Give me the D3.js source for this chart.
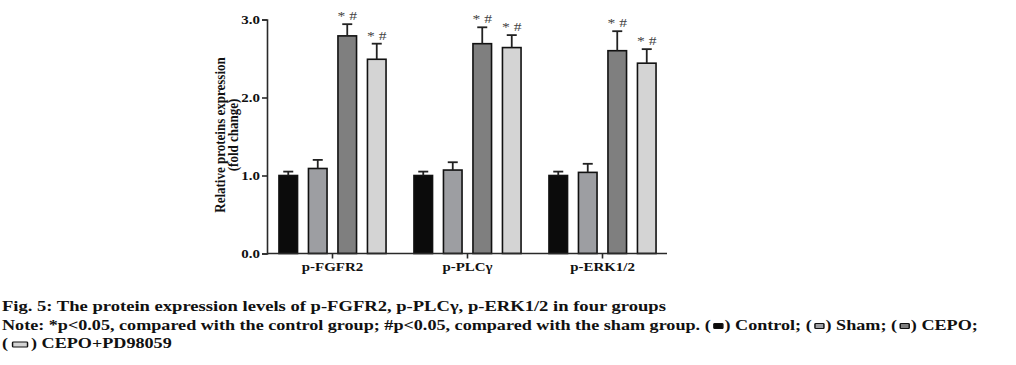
<!DOCTYPE html>
<html>
<head>
<meta charset="utf-8">
<script src="https://cdn.jsdelivr.net/npm/d3@7"></script>
<style>
  html, body { margin: 0; padding: 0; background: #fff; }
  svg { display: block; }
</style>
</head>
<body>
<div id="chart"></div>
<script>
// data
var groups = ["p-FGFR2", "p-PLCγ", "p-ERK1/2"];
var series = ["Control", "Sham", "CEPO", "CEPO+PD98059"];
var seriesColors = ["#0b0b0b", "#9d9ea2", "#7f7f7f", "#d4d4d4"];
var controlMean = [1.00, 1.00, 1.00];
var shamMean = [1.09, 1.07, 1.04];
var cepoMean = [2.79, 2.69, 2.60];
var cepoPdMean = [2.49, 2.64, 2.44];
var controlErr = [0.05, 0.05, 0.05];
var shamErr = [0.11, 0.10, 0.11];
var cepoErr = [0.15, 0.21, 0.25];
var cepoPdErr = [0.20, 0.16, 0.18];
var sigLabels = ["", "", "* #", "* #"];
var yTicks = [0, 1, 2, 3];

var means = [controlMean, shamMean, cepoMean, cepoPdMean];
var errs = [controlErr, shamErr, cepoErr, cepoPdErr];

var W = 1016, H = 365;
var serif = "'Liberation Serif', 'Times New Roman', serif";
var sx = 1.3; // the figure's text is stretched horizontally

var svg = d3.select("#chart").append("svg")
  .attr("width", W).attr("height", H);
svg.append("rect").attr("width", W).attr("height", H).attr("fill", "#fff");

// scales
var y = d3.scaleLinear().domain([0, 3]).range([253.5, 19.5]);
var x0 = d3.scaleBand().domain(groups).range([265, 670]);
var x1 = d3.scaleBand().domain(series).range([-59, 59])
  .paddingInner(0.37).paddingOuter(0.185);

var rows = [];
groups.forEach(function(g, gi) {
  series.forEach(function(s, si) {
    rows.push({ group: g, key: s, si: si, value: means[si][gi], err: errs[si][gi] });
  });
});

function bx(d) { return x0(d.group) + x0.bandwidth() / 2 + x1(d.key); }

// bars
svg.append("g").selectAll("rect")
  .data(rows).enter().append("rect")
  .attr("x", bx)
  .attr("y", function(d) { return y(d.value); })
  .attr("width", x1.bandwidth())
  .attr("height", function(d) { return y(0) - y(d.value); })
  .attr("fill", function(d) { return seriesColors[d.si]; })
  .attr("stroke", "#111")
  .attr("stroke-width", 1.6);

// error bars (upper only)
var eb = svg.append("g").attr("stroke", "#222").attr("stroke-width", 1.8);
eb.selectAll("line.v").data(rows).enter().append("line")
  .attr("x1", function(d) { return bx(d) + x1.bandwidth() / 2; })
  .attr("x2", function(d) { return bx(d) + x1.bandwidth() / 2; })
  .attr("y1", function(d) { return y(d.value); })
  .attr("y2", function(d) { return y(d.value + d.err); });
eb.selectAll("line.c").data(rows).enter().append("line")
  .attr("x1", function(d) { return bx(d) + x1.bandwidth() / 2 - 5; })
  .attr("x2", function(d) { return bx(d) + x1.bandwidth() / 2 + 5; })
  .attr("y1", function(d) { return y(d.value + d.err); })
  .attr("y2", function(d) { return y(d.value + d.err); });

// significance marks
svg.append("g").selectAll("text")
  .data(rows.filter(function(d) { return sigLabels[d.si] !== ""; }))
  .enter().append("text")
  .attr("transform", function(d) {
    return "translate(" + (bx(d) + x1.bandwidth() / 2) + "," + (y(d.value + d.err) - 4) + ") scale(" + sx + ",1)";
  })
  .attr("text-anchor", "middle")
  .style("font-family", serif)
  .style("font-size", "12px")
  .attr("fill", "#444")
  .text(function(d) { return sigLabels[d.si]; });

// Y axis
var yAxis = svg.append("g")
  .attr("transform", "translate(267,0)")
  .call(d3.axisLeft(y).tickValues(yTicks).tickSize(5).tickPadding(3)
    .tickFormat(d3.format(".1f")));
yAxis.select(".domain").attr("stroke", "#2a2a2a").attr("stroke-width", 1.6);
yAxis.selectAll(".tick line").attr("stroke", "#2a2a2a").attr("stroke-width", 1.6);
yAxis.selectAll(".tick text")
  .attr("fill", "#111")
  .style("font-family", serif)
  .style("font-weight", "bold")
  .style("font-size", "11.5px")
  .attr("transform", "scale(" + sx + ",1)")
  .attr("x", -7 / sx);

// X axis
svg.append("line")
  .attr("x1", 267).attr("x2", 667)
  .attr("y1", y(0)).attr("y2", y(0))
  .attr("stroke", "#2a2a2a").attr("stroke-width", 1.6);
svg.append("g").selectAll("line")
  .data(groups).enter().append("line")
  .attr("x1", function(d) { return x0(d) + x0.bandwidth() / 2; })
  .attr("x2", function(d) { return x0(d) + x0.bandwidth() / 2; })
  .attr("y1", y(0)).attr("y2", y(0) + 5)
  .attr("stroke", "#2a2a2a").attr("stroke-width", 1.6);
svg.append("g").selectAll("text")
  .data(groups).enter().append("text")
  .attr("transform", function(d) {
    return "translate(" + (x0(d) + x0.bandwidth() / 2) + ",271) scale(" + sx + ",1)";
  })
  .attr("text-anchor", "middle")
  .style("font-family", serif)
  .style("font-weight", "bold")
  .style("font-size", "11.5px")
  .attr("fill", "#111")
  .text(function(d) { return d; });

// Y label
var yl = svg.append("g")
  .style("font-family", serif)
  .style("font-weight", "bold")
  .style("font-size", "13px")
  .attr("fill", "#111")
  .attr("text-anchor", "middle");
yl.append("text")
  .attr("transform", "translate(225,135) rotate(-90) scale(1,1.12)")
  .text("Relative proteins expression");
yl.append("text")
  .attr("transform", "translate(237.5,135) rotate(-90) scale(1,1.12)")
  .text("(fold change)");

// caption with inline legend swatches
var capSize = 15;
function captionLine(yPos, scaleX, parts) {
  var g = svg.append("g")
    .attr("transform", "translate(2," + yPos + ") scale(" + scaleX + ",1)")
    .style("font-family", serif)
    .style("font-weight", "bold")
    .style("font-size", capSize + "px")
    .attr("fill", "#111");
  var cx = 0;
  parts.forEach(function(p) {
    if (typeof p === "string") {
      var t = g.append("text").attr("x", cx).attr("y", 0)
        .attr("xml:space", "preserve").style("white-space", "pre").text(p);
      cx += t.node().getComputedTextLength();
    } else {
      // swatch sizes are in page pixels, converted to the stretched group
      var gap = (p.wide ? 4.5 : 3.2) / scaleX,
          w = (p.wide ? 15 : 9) / scaleX,
          adv = (p.wide ? 23 : 13.8) / scaleX;
      g.append("rect")
        .attr("x", cx + gap).attr("y", -6)
        .attr("width", w).attr("height", 5)
        .attr("rx", 0.8)
        .attr("fill", seriesColors[p.si])
        .attr("stroke", "#111").attr("stroke-width", 1.2);
      cx += adv;
    }
  });
}

captionLine(311, 1.24, ["Fig. 5: The protein expression levels of p-FGFR2, p-PLCγ, p-ERK1/2 in four groups"]);
captionLine(329.5, 1.21, ["Note: *p<0.05, compared with the control group; #p<0.05, compared with the sham group. (",
  { si: 0 }, ") " + series[0] + "; (", { si: 1 }, ") " + series[1] + "; (", { si: 2 }, ") " + series[2] + ";"]);
captionLine(348, 1.21, ["(", { si: 3, wide: true }, ") " + series[3]]);
</script>
</body>
</html>
